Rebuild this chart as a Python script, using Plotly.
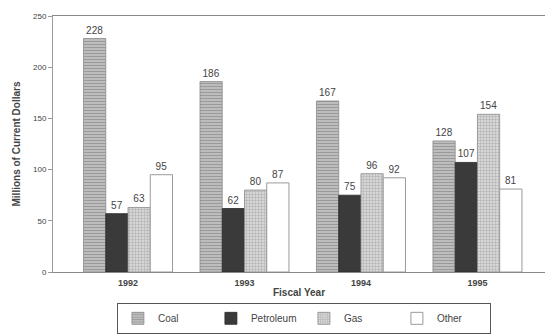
import plotly.graph_objects as go

years = ["1992", "1993", "1994", "1995"]
coal = [228, 186, 167, 128]
petroleum = [57, 62, 75, 107]
gas = [63, 80, 96, 154]
other = [95, 87, 92, 81]
y_ticks = [0, 50, 100, 150, 200, 250]

font_family = "Liberation Sans, Arial, sans-serif"
text_color = "#444444"

series = [
    ("Coal", coal, dict(color="#b8b8b8", line=dict(color="#8a8a8a", width=0.8),
                        pattern=dict(shape="-", fgcolor="#707070", bgcolor="#c4c4c4",
                                     size=3, solidity=0.45))),
    ("Petroleum", petroleum, dict(color="#3a3a3a", line=dict(color="#2a2a2a", width=0.8))),
    ("Gas", gas, dict(color="#c8c8c8", line=dict(color="#8a8a8a", width=0.8),
                      pattern=dict(shape="+", fgcolor="#8c8c8c", bgcolor="#d6d6d6",
                                   size=3, solidity=0.35))),
    ("Other", other, dict(color="#ffffff", line=dict(color="#9a9a9a", width=1))),
]

fig = go.Figure()
for name, vals, marker in series:
    fig.add_trace(go.Bar(
        name=name,
        x=years,
        y=vals,
        marker=marker,
        text=[str(v) for v in vals],
        textposition="outside",
        textfont=dict(size=10, color=text_color, family=font_family),
        cliponaxis=False,
    ))

fig.update_layout(
    width=545,
    height=335,
    margin=dict(l=53, r=0, t=16, b=63, autoexpand=False),
    paper_bgcolor="white",
    plot_bgcolor="white",
    barmode="group",
    bargap=0.236,
    bargroupgap=0,
    font=dict(family=font_family, color=text_color, size=9),
    showlegend=True,
    legend=dict(
        orientation="h",
        x=0.51,
        xanchor="center",
        yref="container",
        y=0.096,
        yanchor="top",
        bordercolor="#555555",
        borderwidth=1,
        entrywidth=48,
        entrywidthmode="pixels",
        font=dict(size=10, color=text_color, family=font_family),
        itemwidth=30,
        tracegroupgap=0,
    ),
    xaxis=dict(
        type="category",
        range=[-0.644, 3.58],
        automargin=False,
        showline=True,
        linecolor="#8a8a8a",
        linewidth=1,
        mirror=True,
        ticks="outside",
        ticklen=2,
        tickcolor="rgba(0,0,0,0)",
        tickfont=dict(size=9, color=text_color, family=font_family, weight="bold"),
        title=dict(text="<b>Fiscal Year</b>", font=dict(size=10, color=text_color),
                   standoff=2),
        showgrid=False,
    ),
    yaxis=dict(
        range=[0, 250],
        tickvals=y_ticks,
        automargin=False,
        showline=True,
        linecolor="#9a9a9a",
        linewidth=1,
        ticks="outside",
        ticklen=4,
        tickcolor="#9a9a9a",
        tickfont=dict(size=8, color=text_color),
        showgrid=False,
        zeroline=False,
        title=dict(text="<b>Millions of Current Dollars</b>",
                   font=dict(size=10, color=text_color), standoff=10),
    ),
)

fig.write_html("out.html")
